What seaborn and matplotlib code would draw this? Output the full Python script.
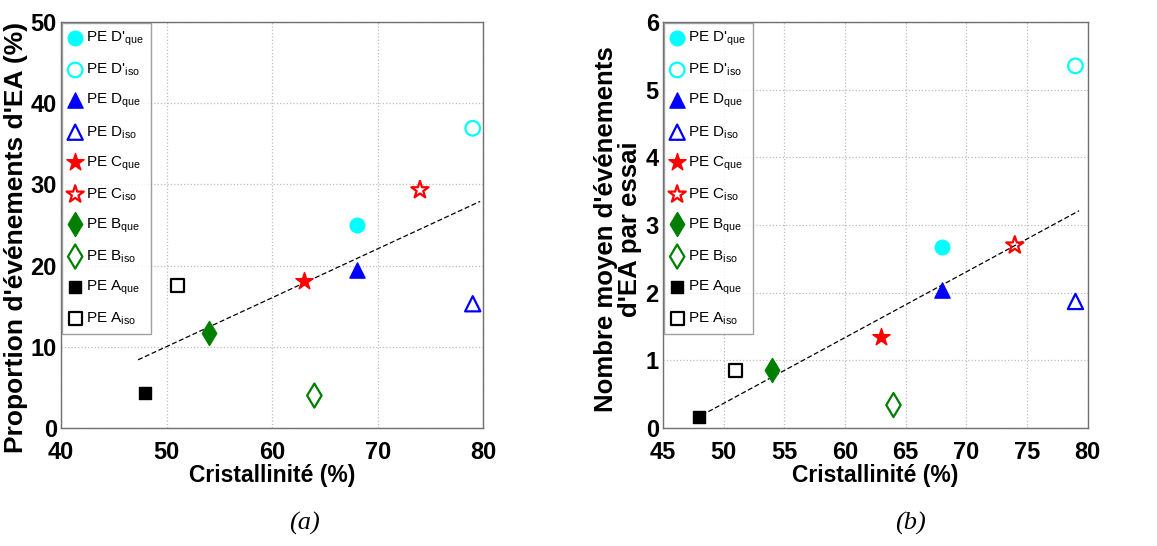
import matplotlib
matplotlib.use("Agg")
import matplotlib.pyplot as plt
import seaborn as sns

# data
labels = [r"PE D'$_\mathregular{que}$", r"PE D'$_\mathregular{iso}$",
          r"PE D$_\mathregular{que}$", r"PE D$_\mathregular{iso}$",
          r"PE C$_\mathregular{que}$", r"PE C$_\mathregular{iso}$",
          r"PE B$_\mathregular{que}$", r"PE B$_\mathregular{iso}$",
          r"PE A$_\mathregular{que}$", r"PE A$_\mathregular{iso}$"]
cryst = [68, 79, 68, 79, 63, 74, 54, 64, 48, 51]
prop_ea = [25.0, 36.9, 19.5, 15.3, 18.1, 29.3, 11.7, 4.0, 4.35, 17.5]
mean_ea = [2.68, 5.35, 2.04, 1.87, 1.35, 2.70, 0.86, 0.34, 0.17, 0.85]
trend_a_x = [47.3, 79.7]
trend_a_y = [8.4, 27.9]
trend_b_x = [48.2, 79.3]
trend_b_y = [0.19, 3.21]

markers = ['o', 'o', '^', '^', '*', '*', 'd', 'd', 's', 's']
sizes = [110, 110, 120, 120, 170, 170, 150, 150, 85, 85]
colors = ['#00FFFF', '#00FFFF', '#0000FF', '#0000FF', '#FF0000', '#FF0000',
          '#007F00', '#007F00', '#000000', '#000000']
filled = [True, False] * 5

sns.set_style("white")
plt.rcParams['font.family'] = ['Liberation Sans', 'DejaVu Sans']
plt.rcParams['mathtext.default'] = 'regular'
plt.rcParams['text.color'] = 'black'
plt.rcParams['axes.labelcolor'] = 'black'

fig = plt.figure(figsize=(11.57, 5.46), dpi=100)
ax1 = fig.add_axes([0.0527, 0.216, 0.365, 0.744])
ax2 = fig.add_axes([0.573, 0.216, 0.367, 0.744])


def draw(ax, yvals, tx, ty):
    for i in range(len(labels)):
        if filled[i]:
            sns.scatterplot(x=[cryst[i]], y=[yvals[i]], marker=markers[i], s=sizes[i],
                            color=colors[i], edgecolor=colors[i], linewidth=1,
                            label=labels[i], ax=ax, zorder=3)
        else:
            sns.scatterplot(x=[cryst[i]], y=[yvals[i]], marker=markers[i], s=sizes[i],
                            color=colors[i], facecolor='none', edgecolor=colors[i],
                            linewidth=1.6, label=labels[i], ax=ax, zorder=3)
    sns.lineplot(x=tx, y=ty, color='black', linestyle=(0, (4, 2)), linewidth=0.9,
                 ax=ax, zorder=2)
    ax.grid(True, linestyle=':', color='#bdbdbd', linewidth=0.9)
    for sp in ax.spines.values():
        sp.set_color('#707070')
        sp.set_linewidth(1.0)
    ax.tick_params(direction='in', length=4, width=0.8, color='#707070',
                   labelcolor='black', labelsize=17)
    ax.tick_params(axis='x', pad=9)
    ax.tick_params(axis='y', pad=3)
    leg = ax.legend(loc='upper left', fontsize=11, frameon=True, fancybox=False,
                    edgecolor='#888888', borderaxespad=0.08, labelspacing=0.9,
                    handletextpad=0.3, handlelength=0.8, borderpad=0.45)
    leg.get_frame().set_linewidth(1.0)
    leg.set_zorder(5)


draw(ax1, prop_ea, trend_a_x, trend_a_y)
ax1.set_xlim(40, 80)
ax1.set_ylim(0, 50)
ax1.set_xticks([40, 50, 60, 70, 80])
ax1.set_yticks([0, 10, 20, 30, 40, 50])
for t in ax1.get_xticklabels() + ax1.get_yticklabels():
    t.set_fontweight('bold')
ax1.set_xlabel("Cristallinité (%)", fontsize=16.5, fontweight='bold', labelpad=0)
ax1.set_ylabel("Proportion d'événements d'EA (%)", fontsize=19, fontweight='bold')
ax1.yaxis.set_label_coords(-0.078, 0.47)

draw(ax2, mean_ea, trend_b_x, trend_b_y)
ax2.set_xlim(45, 80)
ax2.set_ylim(0, 6)
ax2.set_xticks([45, 50, 55, 60, 65, 70, 75, 80])
ax2.set_yticks([0, 1, 2, 3, 4, 5, 6])
for t in ax2.get_xticklabels() + ax2.get_yticklabels():
    t.set_fontweight('bold')
ax2.set_xlabel("Cristallinité (%)", fontsize=16.5, fontweight='bold', labelpad=0)
ax2.set_ylabel("Nombre moyen d'événements\nd'EA par essai", fontsize=18.5,
               fontweight='bold', linespacing=1.0)
ax2.yaxis.set_label_coords(-0.05, 0.49)

fig.text(0.263, 0.042, "(a)", fontsize=19, style='italic',
         family=['Liberation Serif', 'DejaVu Serif'], ha='center', va='center')
fig.text(0.787, 0.042, "(b)", fontsize=19, style='italic',
         family=['Liberation Serif', 'DejaVu Serif'], ha='center', va='center')

fig.savefig("out.png", dpi=100)
